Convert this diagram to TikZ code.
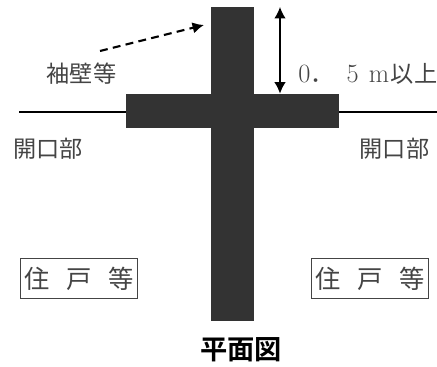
\documentclass[tikz,border=0pt]{standalone}
\usepackage{fontspec}
\usetikzlibrary{arrows.meta}
\newfontfamily\cjk{Noto Sans CJK JP}
\newfontfamily\cjkwide[WordSpace=3]{Noto Sans CJK JP}
\newfontfamily\cjkbold[BoldFont=*]{Noto Sans CJK JP Bold}
\definecolor{wallgray}{HTML}{333333}
\definecolor{textgray}{HTML}{444444}
\tikzset{
  wall/.style={fill=wallgray, draw=none, inner sep=0pt},
  label/.style={font=\fontsize{13.2}{15}\cjk, text=textgray, inner sep=0pt},
  dwelling/.style={draw=textgray, font=\fontsize{14.4}{16}\cjkwide, text=textgray, inner sep=0pt,
    minimum width=2.34cm, minimum height=0.79cm}
}
\begin{document}
\begin{tikzpicture}[x=0.02cm, y=-0.02cm, >={Latex[length=6.5pt, width=6.5pt]}]
\useasboundingbox (0, 0) rectangle (437, 367);

% walls
\node[wall, minimum width=0.86cm, minimum height=6.28cm] (wallv) at (232.5, 164) {};
\node[wall, minimum width=4.26cm, minimum height=0.68cm] (wallh) at (232.5, 111) {};

% openings
\coordinate (openl) at (19, 112);
\coordinate (openr) at (437, 112);
\draw[thick] (openl) -- (openl -| wallh.west);
\draw[thick] (openr) -- (openr -| wallh.east);
\node[label] (openlabell) at (48, 149) {開口部};
\node[label] (openlabelr) at (394.5, 149) {開口部};

% sleeve wall
\node[label] (sleeve) at (81.5, 74) {袖壁等};
\coordinate (sleevefrom) at (100, 51);
\coordinate (sleeveto) at (204, 25);
\draw[very thick, dash pattern=on 4.5pt off 3pt, ->] (sleevefrom) -- (sleeveto);

% height
\coordinate (heighttop) at (280, 7);
\draw[thick, <->] (heighttop) -- (heighttop |- wallh.north);
\node[label, anchor=west] (height) at (298, 74)
  {{\fontsize{15}{17}\rmfamily 0}．\hspace{7.4pt}{\fontsize{15}{17}\rmfamily 5\hspace{5.7pt}m}\hspace{1pt}以上};

% dwellings
\node[dwelling] (dwellingl) at (79, 278.5) {住 戸 等};
\node[dwelling] (dwellingr) at (370, 278.5) {住 戸 等};

\node[inner sep=0pt, font=\fontsize{15.5}{17}\cjkbold] (plan) at (241, 350) {平面図};
\end{tikzpicture}
\end{document}
